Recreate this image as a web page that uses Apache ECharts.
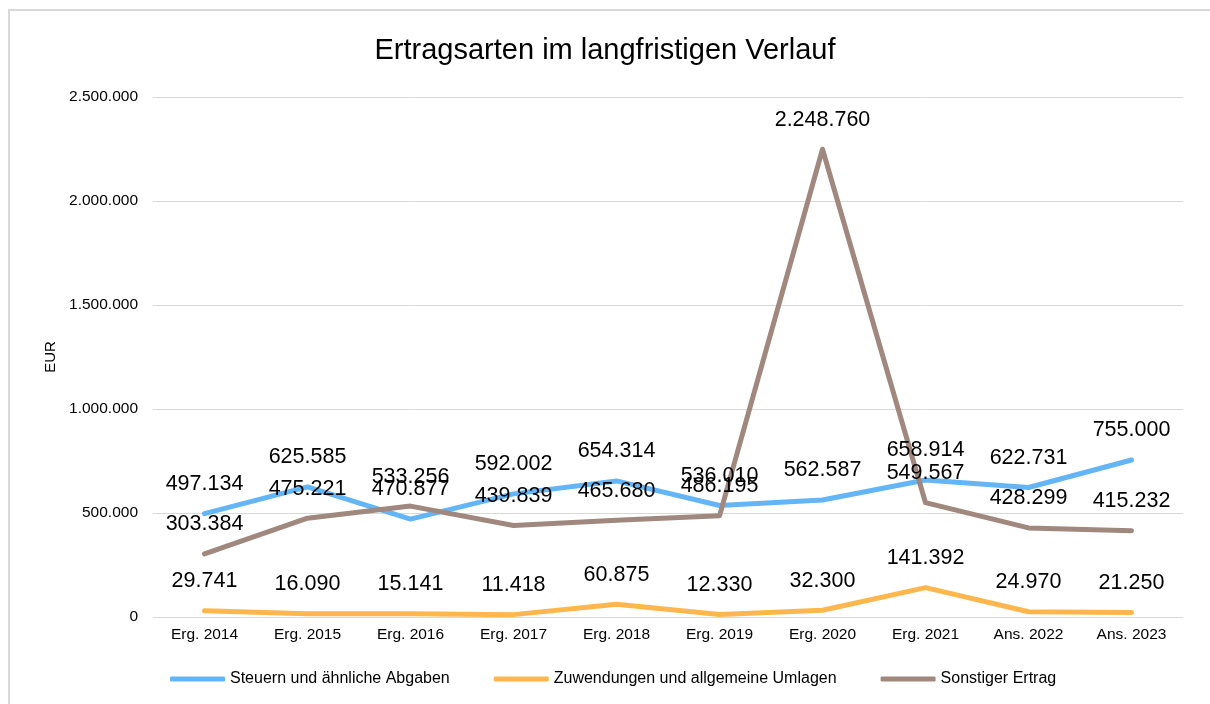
<!DOCTYPE html>
<html>
<head>
<meta charset="utf-8">
<title>Ertragsarten im langfristigen Verlauf</title>
<script src="https://cdn.jsdelivr.net/npm/echarts@6/dist/echarts.min.js"></script>
<style>
  html, body { margin: 0; padding: 0; background: #fff; }
  .frame {
    position: absolute; left: 8px; top: 9px; width: 1220px; height: 720px;
    border-left: 2px solid #d9d9d9; border-top: 2px solid #d9d9d9;
  }
  #chart { position: absolute; left: 0; top: 0; width: 1210px; height: 704px; }
</style>
</head>
<body>
<div class="frame"></div>
<div id="chart"></div>
<script>
  var categories = ['Erg. 2014', 'Erg. 2015', 'Erg. 2016', 'Erg. 2017', 'Erg. 2018',
                    'Erg. 2019', 'Erg. 2020', 'Erg. 2021', 'Ans. 2022', 'Ans. 2023'];
  var steuern = [497134, 625585, 470877, 592002, 654314, 536010, 562587, 658914, 622731, 755000];
  var zuwendungen = [29741, 16090, 15141, 11418, 60875, 12330, 32300, 141392, 24970, 21250];
  var sonstiger = [303384, 475221, 533256, 439839, 465680, 486195, 2248760, 549567, 428299, 415232];
  var seriesNames = ['Steuern und ähnliche Abgaben', 'Zuwendungen und allgemeine Umlagen', 'Sonstiger Ertrag'];
  var colors = ['#64b5f6', '#ffb74d', '#a1887f'];

  var font = 'Liberation Sans, Arial, sans-serif';

  // 1234567 -> "1.234.567"
  function fmt(v) {
    return String(Math.round(v)).replace(/\B(?=(\d{3})+(?!\d))/g, '.');
  }

  function makeSeries(name, data, color) {
    return {
      name: name,
      type: 'line',
      data: data,
      color: color,
      // tiny symbol so the labels get drawn; hidden under the 5px line
      showSymbol: true,
      symbol: 'circle',
      symbolSize: 1,
      itemStyle: { color: color },
      lineStyle: { width: 5, color: color, cap: 'round', join: 'round' },
      label: {
        show: true,
        position: 'top',
        distance: 18,
        fontFamily: font,
        fontSize: 21.5,
        color: '#000',
        formatter: function (p) { return fmt(p.value); }
      },
      labelLayout: { hideOverlap: false },
      emphasis: { disabled: true }
    };
  }

  var chart = echarts.init(document.getElementById('chart'));
  chart.setOption({
    animation: false,
    textStyle: { fontFamily: font },
    title: {
      text: 'Ertragsarten im langfristigen Verlauf',
      left: 'center',
      top: 31,
      textStyle: { fontFamily: font, fontSize: 29, fontWeight: 'normal', color: '#000' }
    },
    legend: {
      bottom: 12,
      left: 165,
      itemWidth: 55,
      itemHeight: 5,
      itemGap: 44,
      icon: 'roundRect',
      textStyle: { fontFamily: font, fontSize: 16, color: '#000' },
      data: seriesNames
    },
    grid: { left: 153, right: 27, top: 97, bottom: 87 },
    xAxis: {
      type: 'category',
      data: categories,
      boundaryGap: true,
      axisLine: { lineStyle: { color: '#d9d9d9', width: 1 } },
      axisTick: { show: false },
      axisLabel: { fontFamily: font, fontSize: 15.5, color: '#000', margin: 10 }
    },
    yAxis: {
      type: 'value',
      min: 0,
      max: 2500000,
      interval: 500000,
      name: 'EUR',
      nameLocation: 'middle',
      nameGap: 95,
      nameRotate: 90,
      nameTextStyle: { fontFamily: font, fontSize: 15, color: '#000' },
      axisLine: { show: false },
      axisTick: { show: false },
      splitLine: { lineStyle: { color: '#d9d9d9', width: 1 } },
      axisLabel: {
        fontFamily: font, fontSize: 15.5, color: '#000', margin: 15,
        formatter: function (v) { return fmt(v); }
      }
    },
    series: [
      makeSeries(seriesNames[0], steuern, colors[0]),
      makeSeries(seriesNames[1], zuwendungen, colors[1]),
      makeSeries(seriesNames[2], sonstiger, colors[2])
    ]
  });
</script>
</body>
</html>
